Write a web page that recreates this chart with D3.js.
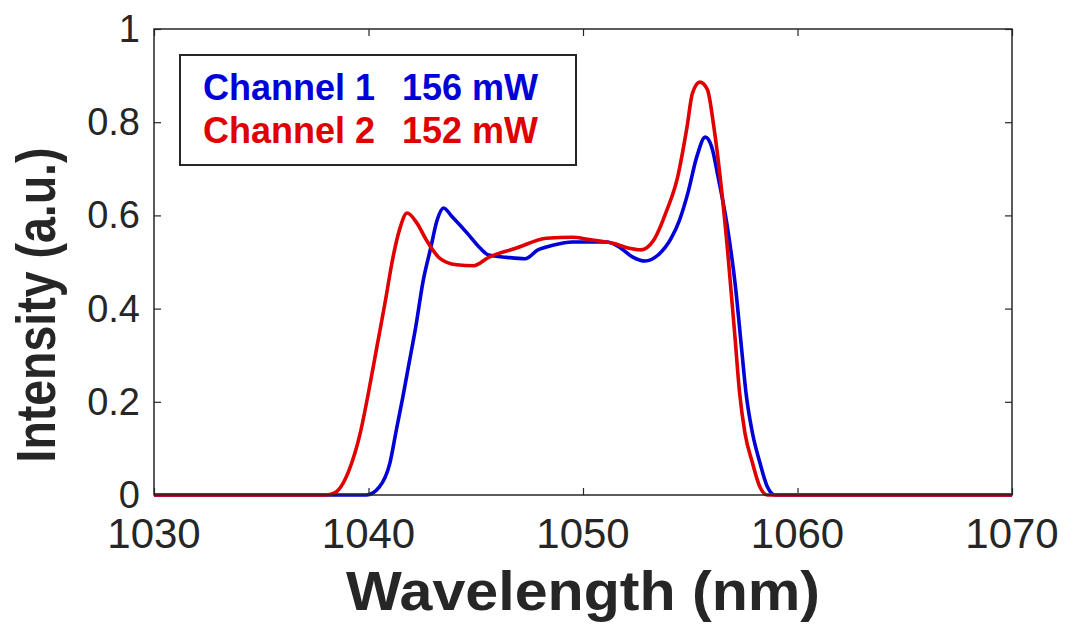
<!DOCTYPE html>
<html>
<head>
<meta charset="utf-8">
<script src="https://cdn.jsdelivr.net/npm/d3@7"></script>
<style>
  html, body { margin: 0; padding: 0; background: #fff; }
  svg { display: block; }
  text { font-family: Arial, "Liberation Sans", sans-serif; }
</style>
</head>
<body>
<div id="chart"></div>
<script>
// Spectra of the two channels (wavelength in nm, normalised intensity)
const wavelength1 = [1030, 1039.9, 1040.5, 1041.0, 1041.3, 1041.6, 1041.9, 1042.2, 1042.55, 1042.9, 1043.2, 1043.5, 1043.9, 1044.6, 1045.2, 1045.6, 1046.45, 1047.3, 1047.9, 1048.6, 1049.5, 1050.3, 1051.1, 1051.7, 1052.3, 1052.9, 1053.5, 1054.1, 1054.5, 1054.9, 1055.3, 1055.7, 1056.0, 1056.3, 1056.7, 1057.1, 1057.4, 1057.6, 1057.9, 1058.25, 1058.6, 1058.95, 1070];
const intensity1 = [0, 0, 0.017, 0.069, 0.14, 0.21, 0.285, 0.36, 0.46, 0.53, 0.59, 0.616, 0.597, 0.562, 0.53, 0.515, 0.51, 0.507, 0.526, 0.536, 0.543, 0.543, 0.543, 0.532, 0.511, 0.502, 0.515, 0.55, 0.59, 0.65, 0.725, 0.768, 0.747, 0.682, 0.584, 0.45, 0.311, 0.219, 0.133, 0.069, 0.017, 0, 0];

const wavelength2 = [1030, 1038.0, 1038.4, 1039.1, 1039.6, 1040.0, 1040.4, 1040.8, 1041.1, 1041.45, 1041.8, 1042.25, 1042.7, 1043.3, 1044.1, 1044.9, 1045.6, 1046.9, 1048.3, 1049.5, 1050.3, 1051.4, 1052.1, 1052.7, 1053.3, 1053.9, 1054.4, 1054.85, 1055.1, 1055.45, 1055.8, 1056.1, 1056.4, 1056.75, 1057.1, 1057.3, 1057.55, 1057.9, 1058.25, 1058.6, 1070];
const intensity2 = [0, 0, 0.004, 0.054, 0.13, 0.22, 0.32, 0.42, 0.5, 0.57, 0.605, 0.584, 0.547, 0.509, 0.494, 0.492, 0.51, 0.53, 0.551, 0.553, 0.548, 0.54, 0.53, 0.526, 0.547, 0.61, 0.68, 0.79, 0.862, 0.886, 0.87, 0.79, 0.68, 0.52, 0.33, 0.219, 0.133, 0.069, 0.017, 0, 0];

const channelNames = ['Channel 1', 'Channel 2'];
const channelPowers = ['156 mW', '152 mW'];
const channelColors = ['#0000d8', '#e00000'];

const xTicks = [1030, 1040, 1050, 1060, 1070];
const yTicks = [0, 0.2, 0.4, 0.6, 0.8, 1];

const width = 1070;
const height = 628;
const margin = {top: 29, right: 58, bottom: 133, left: 154};
const plotW = width - margin.left - margin.right;
const plotH = height - margin.top - margin.bottom;

const svg = d3.select('#chart').append('svg')
  .attr('width', width)
  .attr('height', height);

const g = svg.append('g')
  .attr('transform', `translate(${margin.left},${margin.top})`);

const x = d3.scaleLinear().domain([1030, 1070]).range([0, plotW]);
const y = d3.scaleLinear().domain([0, 1]).range([plotH, 0]);

const axisColor = '#262626';

// Ticks point inward, on all four sides of the box
const tickLen = 7;
function styleTicks(a) {
  a.select('.domain').remove();
  a.selectAll('line').attr('stroke', axisColor).attr('stroke-width', 1.2);
}
g.append('g')
  .attr('transform', `translate(0,${plotH})`)
  .call(d3.axisBottom(x).tickValues(xTicks).tickSize(-tickLen).tickFormat(''))
  .call(styleTicks);
g.append('g')
  .call(d3.axisTop(x).tickValues(xTicks).tickSize(-tickLen).tickFormat(''))
  .call(styleTicks);
g.append('g')
  .call(d3.axisLeft(y).tickValues(yTicks).tickSize(-tickLen).tickFormat(''))
  .call(styleTicks);
g.append('g')
  .attr('transform', `translate(${plotW},0)`)
  .call(d3.axisRight(y).tickValues(yTicks).tickSize(-tickLen).tickFormat(''))
  .call(styleTicks);

// Tick labels
g.selectAll('.xlabel')
  .data(xTicks)
  .enter().append('text')
  .attr('class', 'xlabel')
  .attr('x', d => x(d))
  .attr('y', plotH + 53)
  .attr('text-anchor', 'middle')
  .attr('font-size', '42px')
  .attr('fill', axisColor)
  .text(d => d);

g.selectAll('.ylabel')
  .data(yTicks)
  .enter().append('text')
  .attr('class', 'ylabel')
  .attr('x', -14)
  .attr('y', d => y(d) + 13)
  .attr('text-anchor', 'end')
  .attr('font-size', '38px')
  .attr('fill', axisColor)
  .text(d => d);

// Spectra
const line = d3.line()
  .x(d => x(d[0]))
  .y(d => y(d[1]))
  .curve(d3.curveMonotoneX);

const series = [
  d3.zip(wavelength1, intensity1),
  d3.zip(wavelength2, intensity2)
];

series.forEach((s, i) => {
  g.append('path')
    .datum(s)
    .attr('fill', 'none')
    .attr('stroke', channelColors[i])
    .attr('stroke-width', 3.6)
    .attr('stroke-linejoin', 'round')
    .attr('d', line);
});

// Box around the plot
g.append('rect')
  .attr('x', 0)
  .attr('y', 0)
  .attr('width', plotW)
  .attr('height', plotH)
  .attr('fill', 'none')
  .attr('stroke', axisColor)
  .attr('stroke-width', 1.5);

// Axis titles
svg.append('text')
  .attr('x', margin.left + x(1050))
  .attr('y', 610)
  .attr('text-anchor', 'middle')
  .attr('font-size', '55px')
  .attr('font-weight', 'bold')
  .attr('fill', axisColor)
  .attr('textLength', 474)
  .attr('lengthAdjust', 'spacingAndGlyphs')
  .text('Wavelength (nm)');

svg.append('text')
  .attr('transform', 'translate(55,305) rotate(-90)')
  .attr('text-anchor', 'middle')
  .attr('font-size', '55px')
  .attr('font-weight', 'bold')
  .attr('fill', axisColor)
  .attr('textLength', 315)
  .attr('lengthAdjust', 'spacingAndGlyphs')
  .text('Intensity (a.u.)');

// Legend
const legend = svg.append('g');
legend.append('rect')
  .attr('x', 180)
  .attr('y', 55)
  .attr('width', 396)
  .attr('height', 110)
  .attr('fill', '#fff')
  .attr('stroke', axisColor)
  .attr('stroke-width', 2);

channelNames.forEach((name, i) => {
  const by = 100 + i * 43;
  legend.append('text')
    .attr('x', 203)
    .attr('y', by)
    .attr('font-size', '36px')
    .attr('font-weight', 'bold')
    .attr('fill', channelColors[i])
    .text(name);
  legend.append('text')
    .attr('x', 402)
    .attr('y', by)
    .attr('font-size', '36px')
    .attr('font-weight', 'bold')
    .attr('fill', channelColors[i])
    .text(channelPowers[i]);
});
</script>
</body>
</html>
